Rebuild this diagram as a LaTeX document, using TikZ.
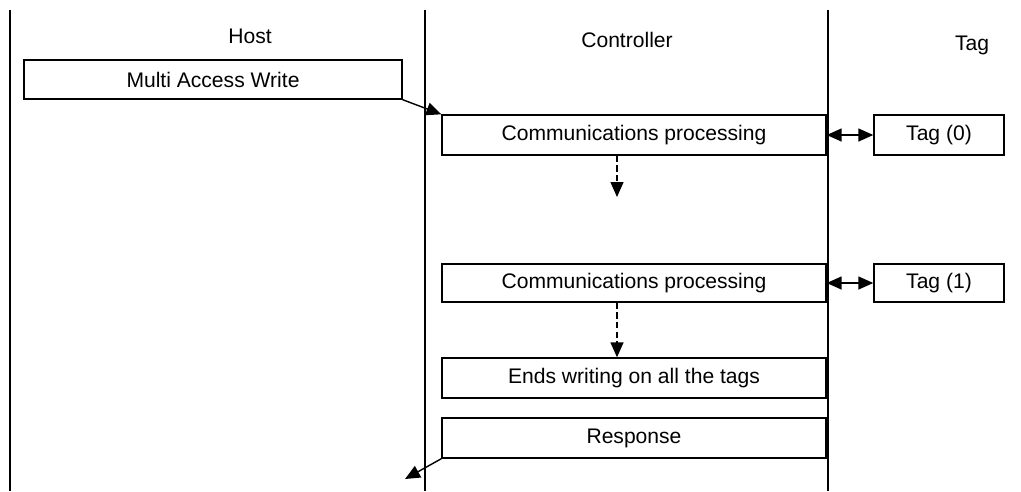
\documentclass[tikz,border=0pt]{standalone}
\usepackage{fontspec}
\setmainfont{Liberation Sans}
\usepackage{tikz}
\usetikzlibrary{arrows.meta, calc}

\tikzset{
  lane/.style={line width=0.8pt},
  box/.style={draw, line width=0.8pt, minimum height=0.8cm, inner sep=0pt},
  flow/.style={-{Triangle[length=3mm, width=2.6mm]}, line width=0.8pt},
  twoway/.style={{Triangle[length=3mm, width=2.6mm]}-{Triangle[length=3mm, width=2.6mm]}, line width=0.8pt},
  next/.style={flow, dash pattern=on 3.5pt off 2pt}
}

\begin{document}
\begin{tikzpicture}[x=0.02cm, y=-0.02cm, font=\fontsize{12}{14}\selectfont]
  \useasboundingbox (0,0) rectangle (1021,491);
  % Lanes
  \draw[lane] (10,10) -- (10,491);
  \draw[lane] (425,10) -- (425,491);
  \draw[lane] (828,10) -- (828,491);
  \node (host) at (250,36) {Host};
  \node (ctrl) at (627,40) {Controller};
  \node (tag)  at (972,45) {Tag};
  % Host request
  \node[box, minimum width=7.56cm, minimum height=0.78cm] (write) at (213,79.5) {Multi Access Write};
  % First tag
  \node[box, minimum width=7.68cm] (comm1) at (634,135) {Communications processing};
  \node[box, minimum width=2.6cm] (tag0) at (939,135) {Tag (0)};
  \draw[flow] (write.south east) -- (comm1.north west);
  \draw[twoway] (comm1.east) -- (tag0.west);
  \coordinate (d1) at (617,197);
  \draw[next] (d1 |- comm1.south) -- (d1);
  % Second tag
  \node[box, minimum width=7.68cm, minimum height=0.76cm] (comm2) at (634,283) {Communications processing};
  \node[box, minimum width=2.6cm, minimum height=0.76cm] (tag1) at (939,283) {Tag (1)};
  \draw[twoway] (comm2.east) -- (tag1.west);
  % End and reply
  \node[box, minimum width=7.68cm] (ends) at (634,378) {Ends writing on all the tags};
  \node[box, minimum width=7.68cm] (resp) at (634,438) {Response};
  \coordinate (d2) at (617,0);
  \draw[next] (d2 |- comm2.south) -- (d2 |- ends.north);
  \coordinate (back) at (405,479);
  \draw[flow] (resp.south west) -- (back);
\end{tikzpicture}
\end{document}
